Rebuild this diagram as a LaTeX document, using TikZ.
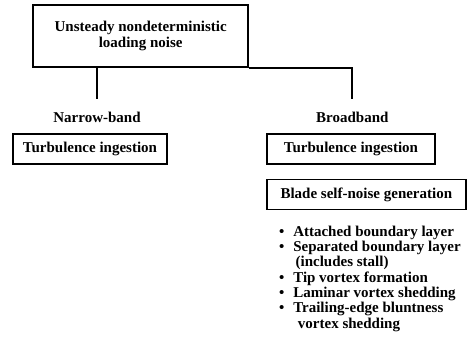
\documentclass[tikz,border=0pt]{standalone}
\usepackage{fontspec}
\setmainfont{Liberation Serif}

\begin{document}
\begin{tikzpicture}[
  font=\fontsize{12.8}{13.6}\selectfont\bfseries,
  hdr/.style={draw, line width=1.6pt, minimum width=6.45cm, minimum height=1.86cm, align=center},
  box/.style={draw, line width=1.3pt, minimum height=0.9cm},
  lbl/.style={inner sep=2pt},
  link/.style={line width=1.6pt, shorten >=3mm},
]
  \useasboundingbox (0,0) rectangle (14.01,10.71);

  % ===================== TOP =====================
  \node[hdr] (noise) at (4.22,9.63) {Unsteady nondeterministic\\loading noise};

  % ===================== BRANCHES =====================
  \node[lbl] (narrow) at (2.91,7.20) {Narrow-band};
  \node[lbl] (broad) at (10.57,7.20) {Broadband};

  \draw[link] (noise.south -| narrow) -- (narrow.north);
  \draw[link] (noise.south east) -| (broad.north);

  \node[box, minimum width=4.62cm] (nbturb) at (2.70,6.24) {Turbulence ingestion};
  \node[box, minimum width=5.04cm] (bbturb) at (10.53,6.24) {Turbulence ingestion};
  \node[box, minimum width=5.97cm] (blade) at (10.99,4.87) {Blade self-noise generation};

  % mechanisms of self-noise
  \node[inner sep=0pt, anchor=base west] (mech) at (8.37,3.63) {%
    \fontsize{12.8}{13.1}\selectfont
    \begin{tabular}[t]{@{}l@{\hspace{7.5pt}}l@{}}
      \textbullet & Attached boundary layer\\
      \textbullet & Separated boundary layer\\
                  & \hspace{2pt}(includes stall)\\
      \textbullet & Tip vortex formation\\
      \textbullet & Laminar vortex shedding\\
      \textbullet & Trailing-edge bluntness\\
                  & \hspace{4pt}vortex shedding
    \end{tabular}};
\end{tikzpicture}
\end{document}
